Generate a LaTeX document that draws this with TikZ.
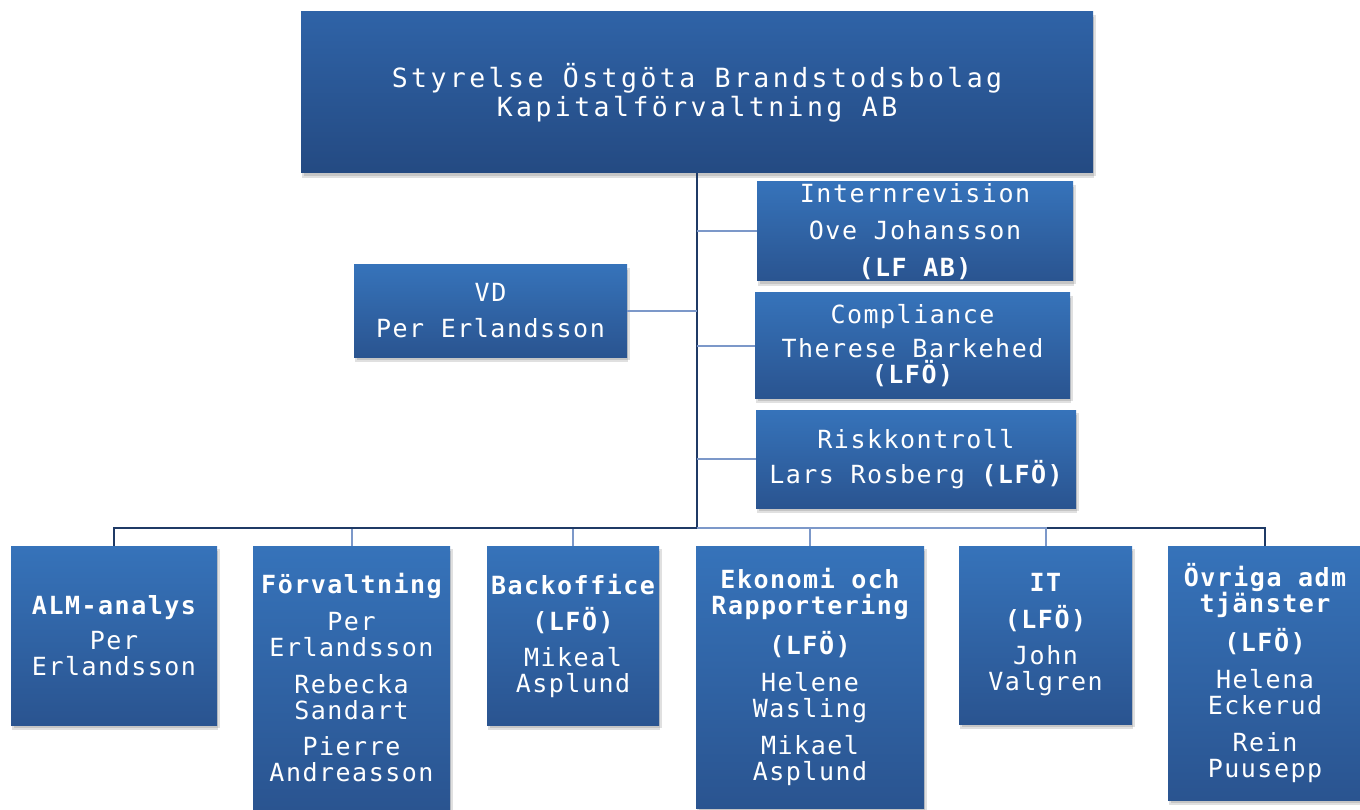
\documentclass[tikz,border=0pt]{standalone}
\usepackage{fontspec}
\usetikzlibrary{shadows}
\newfontfamily\orgfont[LetterSpace=6]{DejaVu Sans Mono}
\newfontfamily\headfont[LetterSpace=13]{DejaVu Sans Mono}
\definecolor{boxtop}{HTML}{3673BA}
\definecolor{boxbot}{HTML}{2A5490}
\definecolor{headtop}{HTML}{2F63A7}
\definecolor{headbot}{HTML}{244A82}
\definecolor{linedark}{HTML}{1F3A66}
\definecolor{linelite}{HTML}{7C98C9}
\tikzset{
	orgbox/.style={rectangle, inner sep=0pt, top color=boxtop, bottom color=boxbot, text=white, align=center,
		font=\orgfont\fontsize{25}{26}\selectfont,
		drop shadow={shadow xshift=1pt, shadow yshift=-5pt, opacity=0.12, fill=black},
		drop shadow={shadow xshift=3pt, shadow yshift=-3pt, opacity=0.12, fill=black}},
	headbox/.style={orgbox, top color=headtop, bottom color=headbot, font=\headfont\fontsize{26.5}{29}\selectfont},
	darkline/.style={draw=linedark, line width=2pt},
	liteline/.style={draw=linelite, line width=2pt}
}

\begin{document}
\begin{tikzpicture}[x=1pt, y=-1pt]
			%%%%% START %%%%%
			
			\useasboundingbox (0, 0) rectangle (1360, 810);
			
			\node[headbox, minimum width=792, minimum height=161] (styrelse) at (697, 92.5)
				{Styrelse Östgöta Brandstodsbolag\\Kapitalförvaltning AB};
			
			\node[orgbox, minimum width=316, minimum height=99] (intern) at (915, 231.5)
				{Internrevision\\[11pt]Ove Johansson\\[11pt]\bfseries (LF AB)};
			\node[orgbox, minimum width=273, minimum height=92] (vd) at (490.5, 311)
				{VD\\[10pt]Per Erlandsson};
			\node[orgbox, minimum width=315, minimum height=105] (compliance) at (912.5, 345.5)
				{Compliance\\[8pt]Therese Barkehed\\\bfseries (LFÖ)};
			\node[orgbox, minimum width=320, minimum height=98] (risk) at (916, 459)
				{Riskkontroll\\[9pt]Lars Rosberg {\bfseries (LFÖ)}};
			
			\node[orgbox, minimum width=206, minimum height=179] (alm) at (114, 635.5)
				{\bfseries ALM-analys\\[9pt]Per\\Erlandsson};
			\node[orgbox, minimum width=197, minimum height=264] (forvaltning) at (351.5, 678)
				{\bfseries Förvaltning\\[11pt]Per\\Erlandsson\\[11pt]Rebecka\\Sandart\\[10pt]Pierre\\Andreasson};
			\node[orgbox, minimum width=172, minimum height=179] (backoffice) at (573, 635.5)
				{\bfseries Backoffice\\[10pt]\bfseries (LFÖ)\\[10pt]Mikeal\\Asplund};
			\node[orgbox, minimum width=228, minimum height=262] (ekonomi) at (810, 677)
				{\bfseries Ekonomi och\\\bfseries Rapportering\\[11pt]\bfseries (LFÖ)\\[11pt]Helene\\Wasling\\[11pt]Mikael\\Asplund};
			\node[orgbox, minimum width=173, minimum height=178] (it) at (1045.5, 635)
				{\bfseries IT\\[11pt]\bfseries (LFÖ)\\[10pt]John\\Valgren};
			\node[orgbox, minimum width=194, minimum height=254] (ovriga) at (1265, 673)
				{\bfseries Övriga adm\\\bfseries tjänster\\[10pt]\bfseries (LFÖ)\\[11pt]Helena\\Eckerud\\[11pt]Rein\\Puusepp};
			
			\coordinate (bus) at (697, 528);
			
			\draw[liteline] (bus) -| (forvaltning.north);
			\draw[liteline] (bus) -| (backoffice.north);
			\draw[darkline] (bus) -| (ovriga.north);
			\draw[darkline] (styrelse.south) -- (bus) -| (alm.north);
			\draw[liteline] (bus) -| (ekonomi.north);
			\draw[liteline] (bus) -| (it.north);
			
			\draw[liteline] (intern.west) -- (intern.west -| styrelse.south);
			\draw[liteline] (vd.east) -- (vd.east -| styrelse.south);
			\draw[liteline] (compliance.west) -- (compliance.west -| styrelse.south);
			\draw[liteline] (risk.west) -- (risk.west -| styrelse.south);
			
			%%%%% END %%%%%
\end{tikzpicture}
\end{document}
